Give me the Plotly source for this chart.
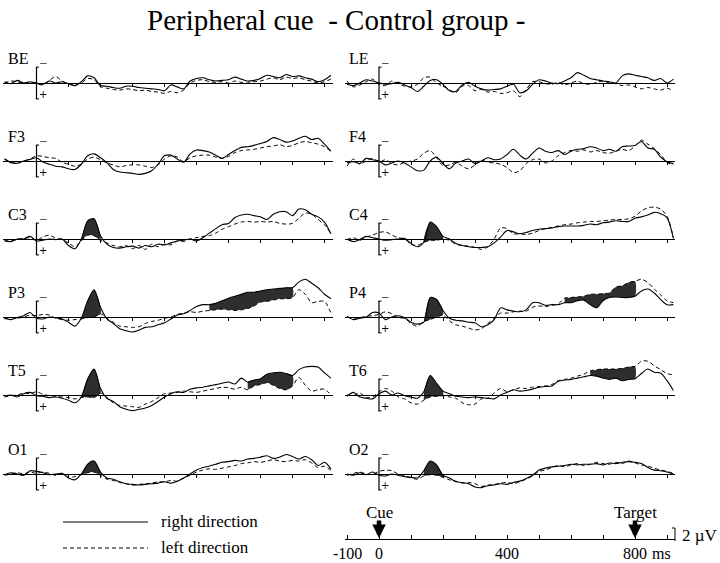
import plotly.graph_objects as go

# ---------------- data (µV, negative = up, sampled every 20 ms) ----------------
TIME_MS = list(range(-100, 921, 20))

BE_right = [-0.2, 0.1, -0.4, 0.0, -0.2, 0.0, 0.2, -0.3, 0.0, -0.2,
            0.1, 0.4, -0.2, -1.1, -0.8, 0.4, 0.5, 0.7, 0.8, 0.5,
            0.5, 0.7, 0.8, 0.9, 1.0, 1.2, 0.3, 0.6, 0.9, -0.3,
            -0.7, -0.8, -0.5, -0.3, -0.4, -0.5, -0.9, -0.6, -0.3, -0.4,
            -0.7, -1.2, -1.0, -0.8, -1.3, -1.0, -1.1, -0.8, -0.6, -0.2,
            -0.5, -1.2]
BE_left = [0.0, -0.3, -0.2, 0.1, -0.1, 0.1, 0.3, -0.4, -1.0, -0.3,
           0.1, 0.2, 0.0, -0.7, -0.5, 0.6, 0.8, 1.0, 1.1, 0.9,
           1.0, 1.2, 1.1, 1.3, 1.4, 1.6, 1.3, 1.5, 1.1, 0.0,
           -0.4, -0.5, -0.2, -0.1, -0.2, 0.0, -0.3, -0.1, 0.0, -0.2,
           -0.3, -0.6, -0.8, -0.5, -0.9, -0.7, -0.8, -0.5, -0.3, 0.0,
           -0.2, -0.6]

F3_right = [-0.3, 0.25, 0.35, 0.0, -0.25, -0.5, 0.15, 0.5, 0.8, 0.9,
            1.2, 1.3, 0.5, -0.8, -1.1, -0.5, 0.25, 1.3, 1.7, 1.8,
            1.9, 2.05, 1.9, 1.5, 0.5, -0.8, -0.9, -0.3, 0.2, -1.1,
            -1.7, -1.6, -1.4, -0.9, -0.4, -1.0, -1.6, -2.1, -2.2, -2.4,
            -2.7, -3.0, -3.6, -3.3, -2.9, -3.1, -3.5, -3.8, -3.3, -3.5,
            -2.6, -1.5]
F3_left = [-0.3, 0.1, 0.2, 0.0, -0.3, -0.8, -0.7, -0.5, -0.4, 0.2,
           0.5, 0.8, 0.5, -0.3, -0.6, -0.2, 0.3, 0.6, 0.9, 0.7,
           0.6, 0.6, 0.8, 1.0, 0.6, -0.3, -0.8, -0.6, 0.1, -0.5,
           -0.8, -0.9, -0.9, -0.6, -0.4, -0.7, -1.3, -1.6, -1.7, -1.8,
           -2.0, -2.2, -2.3, -2.5, -2.2, -2.4, -2.8, -3.0, -2.8, -2.6,
           -2.2, -1.5]

C3_right = [0.3, 0.4, 0.0, 0.0, -0.4, 0.3, 0.2, 0.0, 0.1, 0.0,
            1.0, 1.5, 0.0, -2.8, -3.1, -0.5, 0.8, 1.3, 1.4, 1.2,
            1.1, 1.4, 1.0, 1.2, 0.8, 0.9, 0.6, 0.3, 0.2, 0.0,
            0.3, -0.2, -0.9, -1.6, -2.2, -2.4, -3.3, -3.7, -3.8, -3.6,
            -3.4, -3.0, -3.8, -4.2, -4.2, -3.6, -4.6, -4.5, -3.8, -3.4,
            -2.6, -0.8]
C3_left = [0.2, 0.3, 0.1, -0.1, -0.2, 0.2, -0.3, -0.6, -0.1, 0.1,
           0.6, 1.2, 0.3, -0.6, -0.5, 0.2, 0.6, 1.0, 1.2, 1.0,
           1.5, 1.0, 1.6, 0.8, 1.2, 0.8, 0.9, 0.3, 0.4, 0.0,
           -0.2, -0.4, -0.5, -0.9, -1.5, -1.9, -2.3, -2.6, -2.7, -2.6,
           -2.7, -2.6, -2.7, -2.4, -2.3, -2.4, -3.2, -4.0, -3.8, -3.0,
           -2.2, -0.8]

P3_right = [0.2, 0.4, 0.1, -0.2, -0.7, 0.2, 0.3, 0.0, 0.1, 0.3,
            0.8, 1.4, 0.2, -2.5, -4.2, -1.5, 0.3, 1.0, 1.8, 2.1,
            2.3, 2.0, 1.6, 1.5, 1.2, 0.9, 0.3, -0.3, -0.5, -1.0,
            -1.6, -1.9, -1.9, -2.1, -2.5, -2.9, -3.2, -3.5, -3.8, -3.8,
            -4.0, -4.2, -4.3, -4.4, -4.5, -4.5, -5.4, -5.8, -5.2, -4.5,
            -3.5, -2.8]
P3_left = [0.3, 0.1, 0.2, 0.0, -0.3, -0.2, -0.4, -0.3, 0.2, 0.4,
           0.5, 0.4, 0.3, 0.1, 0.0, -0.5, 0.2, 0.8, 1.4, 1.5,
           1.6, 1.5, 1.0, 0.7, 0.5, 0.2, 0.0, -0.4, -0.6, -0.8,
           -0.7, -0.9, -1.0, -1.1, -1.2, -1.1, -1.0, -1.1, -1.3, -1.7,
           -2.3, -2.4, -2.6, -2.8, -2.8, -3.0, -4.2, -3.5, -2.2, -2.4,
           -2.4, -0.6]

T5_right = [0.2, 0.0, 0.3, -0.2, -0.4, 0.1, 0.2, 0.4, 0.3, 0.5,
            0.8, 1.2, 0.3, -2.5, -4.0, -1.0, 0.5, 1.0, 1.8, 2.2,
            2.4, 2.2, 2.0, 1.6, 1.0, 0.3, -0.2, -0.5, -0.4, -0.9,
            -1.1, -1.2, -1.4, -1.6, -1.8, -2.0, -1.7, -2.6, -2.0, -2.3,
            -2.5, -3.2, -3.4, -3.5, -3.3, -3.0, -3.9, -4.3, -4.4, -4.3,
            -3.4, -2.6]
T5_left = [0.3, 0.1, 0.0, -0.3, -0.2, -0.5, -0.1, 0.1, 0.2, 0.3,
           0.4, 0.6, 0.4, 0.3, 0.4, -0.3, 0.4, 1.2, 1.6, 1.7,
           1.8, 1.9, 1.4, 1.0, 0.4, -0.2, -0.3, -0.4, -0.6, -0.5,
           -0.4, -0.6, -0.8, -1.0, -1.2, -1.1, -0.9, -1.2, -0.8, -1.4,
           -1.6, -1.9, -1.5, -1.0, -0.8, -1.4, -2.7, -1.5, -0.6, -0.8,
           -0.9, 0.0]

O1_right = [0.1, -0.2, 0.0, 0.2, -0.5, -0.4, -0.2, 0.1, 0.0, -0.1,
            0.6, 0.9, 0.0, -1.5, -2.0, -0.3, 0.6, 0.8, 1.2, 1.5,
            1.6, 1.7, 1.6, 1.5, 1.4, 1.2, 1.4, 1.1, 0.6, 0.0,
            -0.6, -1.0, -1.2, -1.5, -1.8, -1.9, -2.1, -2.0, -2.3, -2.4,
            -2.6, -2.8, -2.4, -2.6, -3.0, -2.7, -2.3, -2.7, -2.2, -1.3,
            -1.8, -0.8]
O1_left = [0.2, 0.0, -0.2, 0.0, -0.3, -0.1, -0.3, -0.1, 0.2, 0.0,
           0.5, 0.4, 0.1, -0.2, -0.3, 0.2, 0.8, 1.0, 1.3, 1.5,
           1.7, 1.6, 1.5, 1.4, 1.2, 1.2, 1.0, 1.1, 0.6, 0.2,
           -0.3, -0.6, -0.8, -0.7, -0.9, -1.1, -1.3, -1.6, -1.7, -1.9,
           -1.8, -2.0, -2.2, -2.0, -1.9, -2.1, -2.0, -2.2, -1.7, -1.0,
           -1.2, -0.6]

LE_right = [0.2, 0.4, 0.0, -0.5, -0.3, 0.0, 0.2, 0.1, -0.1, 0.3,
            0.7, 1.3, 0.5, -0.4, -0.5, 0.2, 1.2, 1.3, 0.3, -0.1,
            0.5, 0.9, 1.1, 1.0, 0.9, 0.5, 0.2, 1.5, 1.2, 0.2,
            -0.5, -0.3, 0.0, 0.1, -0.3, -0.8, -1.6, -1.2, -0.7, -0.5,
            -0.3, -0.2, 0.0, -1.1, -1.4, -1.2, -1.0, -0.8, -0.4, -0.7,
            0.0, -0.6]
LE_left = [-0.3, 0.6, 0.3, -0.2, -0.6, 0.2, 0.4, -0.3, 0.1, 0.5,
           0.6, 0.2, -0.8, -0.9, 0.0, 0.5, 1.0, 1.5, 0.5, 0.4,
           1.2, 1.0, 1.4, 1.3, 1.6, 1.5, 1.2, 2.1, 1.0, -0.2,
           -0.2, 0.1, 0.2, -0.1, 0.3, 0.0, -0.3, 0.1, 0.2, -0.1,
           -0.3, 0.0, 0.1, 0.4, 0.3, 0.6, 0.9, 0.7, 0.9, 1.1,
           0.8, 1.2]

F4_right = [0.3, 0.1, 0.4, -0.4, -0.2, 0.0, 0.6, 0.3, 0.0, 0.3,
            0.9, 1.5, 1.4, 0.0, -0.6, 0.4, 1.2, 0.3, 0.0, -0.3,
            0.4, 0.0, -0.5, -0.2, -0.3, -1.0, -1.8, -0.9, -0.3, -1.2,
            -2.0, -1.5, -1.3, -1.6, -1.0, -1.5, -1.8, -1.9, -2.2, -2.0,
            -1.6, -1.8, -1.5, -2.2, -2.3, -2.4, -3.0, -2.0, -1.8, -0.6,
            0.1, 0.4]
F4_left = [0.8, -0.3, 0.5, 0.0, -0.4, 0.2, -0.2, 0.4, 0.6, 0.2,
           0.0, -0.3, -1.2, -1.6, -0.5, 0.7, 0.6, 0.2, 0.8, 1.2,
           0.6, -0.1, 0.2, 0.3, 0.5, 1.0, 1.8, 1.5, 0.4, -0.2,
           -0.3, 0.3, 0.0, -0.8, -1.3, -1.6, -1.5, -1.7, -1.4, -1.6,
           -1.3, -1.2, -1.5, -1.8, -1.6, -2.3, -3.2, -2.6, -1.9, -1.0,
           0.2, 0.6]

C4_right = [0.0, 0.4, 0.1, -0.4, -0.2, 0.0, 0.2, 0.1, 0.0, -0.1,
            0.7, 1.2, 0.5, -2.6, -1.9, -0.4, 0.0, 0.7, 1.0, 1.2,
            1.3, 1.3, 1.2, 0.6, -0.3, -1.3, -1.1, -0.8, -1.0, -1.3,
            -1.5, -1.6, -1.7, -1.9, -2.0, -2.0, -2.0, -2.1, -2.3, -2.2,
            -2.5, -2.6, -2.8, -2.7, -2.7, -3.2, -3.4, -3.7, -4.1, -3.9,
            -3.3, -0.1]
C4_left = [0.1, -0.2, 0.2, -0.3, -0.6, -1.0, -1.1, -0.6, -0.2, 0.0,
           0.8, 1.0, 0.5, 0.2, 0.2, 0.0, 0.2, 0.8, 1.0, 1.1,
           1.3, 1.6, 1.2, 0.0, -1.7, -1.6, -0.8, -0.8, -0.7, -0.9,
           -1.3, -1.6, -1.8, -2.0, -2.2, -2.3, -2.5, -2.6, -2.7, -2.7,
           -2.8, -2.9, -3.0, -3.0, -3.1, -3.5, -4.3, -4.8, -4.9, -4.6,
           -3.5, -0.2]

P4_right = [-0.1, 0.4, 0.2, 0.0, -0.7, -0.6, 0.4, 0.0, -0.2, 0.1,
            0.8, 1.1, 0.8, -3.0, -2.7, -1.0, 0.2, 0.5, 0.6, 0.8,
            0.9, 1.5, 1.2, 0.4, -1.4, -1.1, -0.9, -0.8, -1.1, -2.2,
            -2.2, -1.8, -1.9, -1.9, -2.2, -2.2, -2.5, -2.6, -1.9, -1.4,
            -2.5, -3.0, -3.1, -3.0, -3.0, -3.2, -4.0, -4.3, -3.7, -2.7,
            -1.9, -1.9]
P4_left = [0.0, 0.2, 0.1, -0.1, -0.2, -0.4, -0.8, -0.5, 0.1, 0.2,
           1.0, 1.4, 0.7, 0.4, 0.0, -0.3, 0.6, 1.2, 1.4, 1.7,
           2.0, 1.8, 1.0, 0.2, -0.6, -0.6, -0.8, -0.9, -0.9, -1.5,
           -1.7, -1.6, -1.8, -2.0, -2.9, -3.0, -3.1, -3.2, -3.5, -3.5,
           -3.6, -3.7, -4.6, -4.8, -5.3, -5.5, -5.8, -5.3, -4.3, -3.4,
           -2.5, -2.2]

T6_right = [0.2, -0.4, 0.3, 0.5, 0.6, -0.2, -0.6, 0.0, -0.3, 0.1,
            0.3, 0.5, -0.5, -3.0, -1.8, -0.6, -0.2, 0.2, 0.3, 0.4,
            0.3, 0.4, 0.5, 0.6, 0.0, -0.4, -0.8, -0.6, -0.7, -0.9,
            -1.2, -1.3, -1.4, -2.1, -2.3, -2.4, -2.6, -2.8, -3.0, -2.9,
            -2.6, -2.4, -2.6, -2.2, -2.4, -2.5, -3.3, -4.0, -3.5, -3.4,
            -2.2, -0.7]
T6_left = [0.0, 0.1, -0.3, 0.4, 0.3, -0.5, -1.0, -0.6, 0.3, 0.6,
           1.2, 1.4, 0.8, 0.3, 0.2, 0.1, 0.3, 0.5, 1.2, 1.5,
           1.4, 0.6, 0.5, -0.3, -1.0, -0.5, -0.8, -1.1, -1.0, -1.2,
           -1.3, -1.4, -1.6, -2.2, -2.4, -2.6, -2.9, -3.2, -3.7, -3.9,
           -4.0, -4.0, -4.0, -4.1, -4.3, -4.4, -5.2, -5.2, -4.5, -3.9,
           -3.3, -3.1]

O2_right = [0.0, 0.2, -0.2, 0.1, -0.3, 0.2, 0.3, 0.0, 0.2, 0.4,
            0.5, 0.6, -0.5, -2.0, -1.4, 0.2, 0.6, 1.2, 1.3, 1.5,
            2.0, 2.1, 1.8, 1.7, 1.5, 1.6, 1.3, 1.1, 0.7, 0.2,
            -0.6, -0.9, -1.1, -1.2, -1.3, -1.5, -1.4, -1.5, -1.5, -1.6,
            -1.4, -1.7, -1.6, -1.8, -1.9, -1.8, -1.6, -1.0, -0.6, -0.5,
            -0.3, 0.0]
O2_left = [0.2, -0.1, -0.3, 0.0, 0.1, -0.4, -0.6, -0.5, 0.0, 0.3,
           0.6, 0.8, 0.3, 0.1, 0.2, 0.5, 0.9, 1.1, 1.4, 1.3,
           1.5, 1.9, 1.7, 1.6, 1.4, 1.3, 1.5, 1.2, 0.8, 0.3,
           -0.4, -0.6, -1.0, -1.3, -1.1, -1.4, -1.6, -1.3, -1.5, -1.8,
           -1.6, -1.5, -1.8, -1.6, -2.0, -1.7, -1.4, -1.2, -0.9, -0.6,
           -0.4, -0.1]

LEFT_CHANNELS = ["BE", "F3", "C3", "P3", "T5", "O1"]
RIGHT_CHANNELS = ["LE", "F4", "C4", "P4", "T6", "O2"]

# significant differences (shaded), in ms
EARLY_SHADE = (140, 200)
EARLY_SHADED = ["C3", "C4", "P3", "P4", "T5", "T6", "O1", "O2"]
LATE_SHADE = {"P3": (540, 800), "P4": (580, 800), "T5": (660, 800), "T6": (660, 800)}

BASE_TICKS = [100, 200, 300, 400, 500, 600, 700, 800, 900]
TIME_TICKS = [-100, 0, 100, 200, 300, 400, 500, 600, 700, 800, 900]
TIME_LABELS = {-100: "-100", 0: "0", 400: "400", 800: "800"}

SERIES = {
    "BE": (BE_right, BE_left), "F3": (F3_right, F3_left), "C3": (C3_right, C3_left),
    "P3": (P3_right, P3_left), "T5": (T5_right, T5_left), "O1": (O1_right, O1_left),
    "LE": (LE_right, LE_left), "F4": (F4_right, F4_left), "C4": (C4_right, C4_left),
    "P4": (P4_right, P4_left), "T6": (T6_right, T6_left), "O2": (O2_right, O2_left),
}

# ---------------- geometry ----------------
W, H = 720, 563
SERIF = "Liberation Serif, Times New Roman, serif"
BASE_PX = [83, 161, 239, 317, 395, 474]
ZERO_PX = [36.5, 379.0]
MS_PX = 0.32
UV_PX = 6.5
XR = [-105, 925]
YR = [4.0, -6.5]
LABEL_X = [-95, -100]
DASH = "4px,3px"
SHADE_COLOR = "#2e2e2e"


def fx(p):
    return p / W


def fy(p):
    return 1 - p / H


fig = go.Figure()
layout_axes = {}
annotations = []
shapes = []

k = 0
for col, chans in enumerate([LEFT_CHANNELS, RIGHT_CHANNELS]):
    z = ZERO_PX[col]
    dx0, dx1 = z + XR[0] * MS_PX, z + XR[1] * MS_PX
    for row, ch in enumerate(chans):
        k += 1
        b = BASE_PX[row]
        sfx = "" if k == 1 else str(k)
        xa, ya = "x" + sfx, "y" + sfx
        layout_axes["xaxis" + sfx] = dict(
            domain=[fx(dx0), fx(dx1)], range=XR, anchor="free", position=fy(b),
            showline=True, linecolor="black", linewidth=1.2, ticks="outside",
            tickvals=BASE_TICKS, ticklen=3, tickwidth=1, tickcolor="black",
            showticklabels=False, showgrid=False, zeroline=False, fixedrange=True)
        layout_axes["yaxis" + sfx] = dict(
            domain=[fy(b + YR[0] * UV_PX), fy(b + YR[1] * UV_PX)], range=YR,
            visible=False, anchor=xa, fixedrange=True)

        right, left = SERIES[ch]
        spans = []
        if ch in EARLY_SHADED:
            spans.append(EARLY_SHADE)
        if ch in LATE_SHADE:
            spans.append(LATE_SHADE[ch])
        for a, e in spans:
            idx = [i for i, t in enumerate(TIME_MS) if a <= t <= e]
            px_ = [TIME_MS[i] for i in idx] + [TIME_MS[i] for i in reversed(idx)]
            py_ = [right[i] for i in idx] + [left[i] for i in reversed(idx)]
            fig.add_trace(go.Scatter(
                x=px_, y=py_, xaxis=xa, yaxis=ya, mode="lines", fill="toself",
                fillcolor=SHADE_COLOR, line=dict(width=0, shape="spline", smoothing=0.8),
                hoverinfo="skip", showlegend=False))

        fig.add_trace(go.Scatter(
            x=TIME_MS, y=left, xaxis=xa, yaxis=ya, mode="lines",
            line=dict(color="black", width=1, dash=DASH, shape="spline", smoothing=0.8),
            name="left direction", showlegend=False))
        fig.add_trace(go.Scatter(
            x=TIME_MS, y=right, xaxis=xa, yaxis=ya, mode="lines",
            line=dict(color="black", width=1.1, shape="spline", smoothing=0.8),
            name="right direction", showlegend=False))

        # calibration bar at stimulus onset
        shapes.append(dict(type="line", xref=xa, yref=ya, x0=0, x1=0, y0=-2.45, y1=2.45,
                           line=dict(color="black", width=1.2)))
        for yy in (-2.45, 2.45):
            shapes.append(dict(type="line", xref=xa, yref=ya, x0=-2, x1=8, y0=yy, y1=yy,
                               line=dict(color="black", width=1)))
        annotations.append(dict(xref=xa, yref=ya, x=LABEL_X[col], y=-3.8, text=ch,
                                showarrow=False, xanchor="left", yanchor="middle",
                                font=dict(family=SERIF, size=16, color="black")))
        annotations.append(dict(xref=xa, yref=ya, x=19, y=-3.3, text="\u2013",
                                showarrow=False, xanchor="center", yanchor="middle",
                                font=dict(family=SERIF, size=13, color="black")))
        annotations.append(dict(xref=xa, yref=ya, x=19, y=1.7, text="+",
                                showarrow=False, xanchor="center", yanchor="middle",
                                font=dict(family="DejaVu Sans, sans-serif", size=10, color="black")))

# ---------------- time axis at bottom right ----------------
k += 1
sfx = str(k)
AX_PX = 539
layout_axes["xaxis" + sfx] = dict(
    domain=[fx(ZERO_PX[1] + XR[0] * MS_PX), fx(ZERO_PX[1] + XR[1] * MS_PX)],
    range=XR, anchor="free", position=fy(AX_PX), showline=True, linecolor="black",
    linewidth=1.2, ticks="inside", tickvals=TIME_TICKS, ticklen=4, tickcolor="black",
    showticklabels=False, showgrid=False, zeroline=False, fixedrange=True)
layout_axes["yaxis" + sfx] = dict(domain=[fy(560), fy(500)], range=[0, 1],
                                  visible=False, anchor="x" + sfx, fixedrange=True)
fig.add_trace(go.Scatter(x=[TIME_TICKS[0]], y=[0], xaxis="x" + sfx, yaxis="y" + sfx,
                         mode="markers", marker=dict(opacity=0), hoverinfo="skip",
                         showlegend=False))
for t, lab in TIME_LABELS.items():
    annotations.append(dict(xref="x" + sfx, yref="paper", x=t, y=fy(553), text=lab,
                            showarrow=False, xanchor="center", yanchor="middle",
                            font=dict(family=SERIF, size=16, color="black")))
annotations.append(dict(xref="x" + sfx, yref="paper", x=848, y=fy(553), text="ms",
                        showarrow=False, xanchor="left", yanchor="middle",
                        font=dict(family=SERIF, size=16, color="black")))
for t, lab in [(0, "Cue"), (800, "Target")]:
    annotations.append(dict(xref="x" + sfx, yref="paper", x=t, y=fy(512), text=lab,
                            showarrow=False, xanchor="center", yanchor="middle",
                            font=dict(family=SERIF, size=17, color="black")))
    annotations.append(dict(xref="x" + sfx, yref="paper", x=t, y=fy(AX_PX - 1), text="",
                            showarrow=True, ax=0, ay=-19, arrowhead=2, arrowsize=0.6,
                            arrowwidth=4.5, arrowcolor="black", standoff=0, startstandoff=0))
# 2 µV calibration
shapes.append(dict(type="line", xref="paper", yref="paper", x0=fx(675), x1=fx(675),
                   y0=fy(528), y1=fy(541), line=dict(color="black", width=1)))
shapes.append(dict(type="line", xref="paper", yref="paper", x0=fx(672), x1=fx(675),
                   y0=fy(528), y1=fy(528), line=dict(color="black", width=1)))
annotations.append(dict(xref="paper", yref="paper", x=fx(680), y=fy(535), text="2 \u00b5V",
                        showarrow=False, xanchor="left", yanchor="middle",
                        font=dict(family=SERIF, size=17, color="black")))

# ---------------- legend (drawn) ----------------
shapes.append(dict(type="line", xref="paper", yref="paper", x0=fx(63), x1=fx(148),
                   y0=fy(522), y1=fy(522), line=dict(color="black", width=1.1)))
shapes.append(dict(type="line", xref="paper", yref="paper", x0=fx(63), x1=fx(148),
                   y0=fy(548), y1=fy(548), line=dict(color="black", width=1, dash=DASH)))
annotations.append(dict(xref="paper", yref="paper", x=fx(159), y=fy(521),
                        text="right direction", showarrow=False, xanchor="left",
                        yanchor="middle", font=dict(family=SERIF, size=17, color="black")))
annotations.append(dict(xref="paper", yref="paper", x=fx(159), y=fy(547),
                        text="left direction", showarrow=False, xanchor="left",
                        yanchor="middle", font=dict(family=SERIF, size=17, color="black")))

# ---------------- title ----------------
annotations.append(dict(xref="paper", yref="paper", x=fx(336), y=fy(20),
                        text="Peripheral cue \u00a0- Control group -", showarrow=False,
                        xanchor="center", yanchor="middle",
                        font=dict(family=SERIF, size=29, color="black")))

fig.update_layout(
    width=W, height=H, margin=dict(l=0, r=0, t=0, b=0),
    paper_bgcolor="white", plot_bgcolor="rgba(0,0,0,0)",
    showlegend=False, annotations=annotations, shapes=shapes, hovermode=False,
    **layout_axes)

fig.write_html("out.html",
               config={"displayModeBar": False, "staticPlot": True},
               post_script="document.body.style.margin='0px';"
                           "document.body.style.padding='0px';"
                           "document.body.style.overflow='hidden';")
